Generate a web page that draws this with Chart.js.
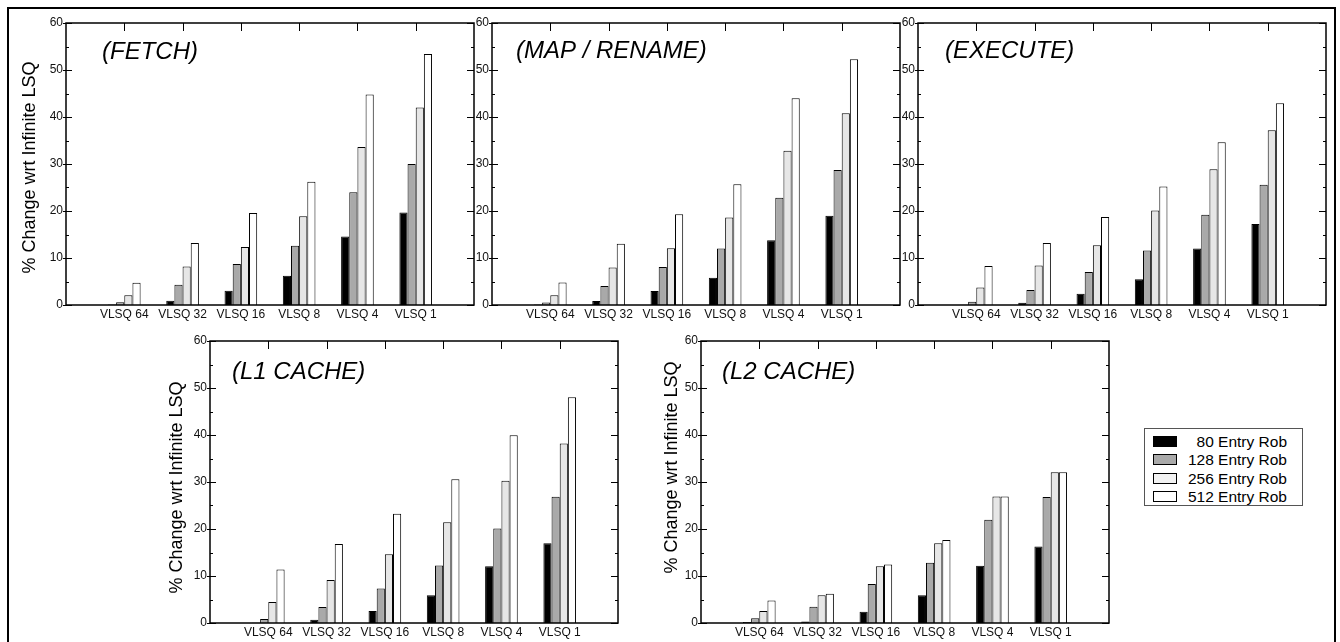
<!DOCTYPE html>
<html>
<head>
<meta charset="utf-8">
<script src="https://cdn.jsdelivr.net/npm/chart.js@4.4.1/dist/chart.umd.min.js"></script>
<style>
    body {
        margin: 0;
        width: 1340px;
        height: 642px;
        overflow: hidden;
        position: relative;
        background: #fff;
        font-family: "Liberation Sans", Arial, sans-serif;
    }
    .frame {
        position: absolute;
        left: 7px;
        top: 7px;
        width: 1325px;
        height: 700px;
        border: 2.5px solid #000;
    }
    canvas.panel {
        position: absolute;
    }
    .legend {
        position: absolute;
        left: 1144px;
        top: 428px;
        width: 157px;
        height: 76px;
        border: 1.5px solid #555;
        background: #fff;
    }
    .legend .row {
        position: absolute;
        left: 0;
        width: 142px;
        height: 11px;
    }
    .legend .swatch {
        position: absolute;
        left: 8px;
        top: 0;
        width: 22px;
        height: 9px;
        border: 1px solid #000;
    }
    .legend .label {
        position: absolute;
        right: 0;
        top: -3px;
        font-size: 15.5px;
        line-height: 17px;
        color: #000;
        white-space: nowrap;
    }
</style>
</head>
<body>
<div class="frame"></div>
<canvas id="fetchChart" class="panel" width="480" height="319" style="left:6px; top:8px;"></canvas>
<canvas id="renameChart" class="panel" width="480" height="319" style="left:432px; top:8px;"></canvas>
<canvas id="executeChart" class="panel" width="480" height="319" style="left:858px; top:8px;"></canvas>
<canvas id="l1Chart" class="panel" width="480" height="319" style="left:150px; top:326px;"></canvas>
<canvas id="l2Chart" class="panel" width="480" height="319" style="left:641px; top:326px;"></canvas>
<div class="legend" id="legend"></div>

<script>
const categories = ['VLSQ 64', 'VLSQ 32', 'VLSQ 16', 'VLSQ 8', 'VLSQ 4', 'VLSQ 1'];
const seriesNames = ['80 Entry Rob', '128 Entry Rob', '256 Entry Rob', '512 Entry Rob'];
const seriesColors = ['#000000', '#a9a9a9', '#e6e6e6', '#ffffff'];
const legendColors = ['#000000', '#a9a9a9', '#f2f2f2', '#ffffff'];
const yTicks = [0, 10, 20, 30, 40, 50, 60];

// (FETCH)
const fetchRob80 = [0.1, 0.9, 3.05, 6.2, 14.55, 19.7];
const fetchRob128 = [0.6, 4.3, 8.7, 12.6, 24.0, 30.0];
const fetchRob256 = [2.1, 8.2, 12.35, 18.9, 33.6, 42.0];
const fetchRob512 = [4.75, 13.2, 19.6, 26.2, 44.8, 53.4];

// (MAP / RENAME)
const renameRob80 = [0.1, 0.85, 3.0, 5.8, 13.8, 19.0];
const renameRob128 = [0.55, 4.05, 8.1, 12.0, 22.8, 28.7];
const renameRob256 = [2.1, 8.0, 12.1, 18.6, 32.8, 40.8];
const renameRob512 = [4.8, 13.05, 19.3, 25.7, 44.0, 52.3];

// (EXECUTE)
const executeRob80 = [0.05, 0.5, 2.4, 5.5, 12.0, 17.25];
const executeRob128 = [0.7, 3.2, 7.0, 11.6, 19.2, 25.6];
const executeRob256 = [3.75, 8.4, 12.7, 20.1, 28.9, 37.2];
const executeRob512 = [8.3, 13.2, 18.7, 25.2, 34.65, 42.9];

// (L1 CACHE)
const l1Rob80 = [0.05, 0.7, 2.55, 5.9, 12.05, 16.95];
const l1Rob128 = [0.85, 3.4, 7.35, 12.25, 20.1, 26.85];
const l1Rob256 = [4.45, 9.15, 14.65, 21.45, 30.25, 38.2];
const l1Rob512 = [11.4, 16.8, 23.25, 30.6, 39.95, 48.05];

// (L2 CACHE)
const l2Rob80 = [0.2, 0.3, 2.4, 5.9, 12.2, 16.3];
const l2Rob128 = [1.0, 3.45, 8.3, 12.8, 21.95, 26.8];
const l2Rob256 = [2.55, 5.9, 12.05, 16.95, 26.9, 32.1];
const l2Rob512 = [4.8, 6.25, 12.45, 17.65, 26.9, 32.1];

const FONT = '"Liberation Sans", Arial, Helvetica, sans-serif';

// frame, tick marks and titles drawn on top of each panel
const panelDecor = {
    id: 'panelDecor',
    afterDraw(chart, args, opts) {
        const ctx = chart.ctx;
        const a = chart.chartArea;
        const x = chart.scales.x;
        const y = chart.scales.y;
        ctx.save();
        ctx.strokeStyle = '#000';
        ctx.lineWidth = 1.5;
        ctx.strokeRect(a.left, a.top, a.right - a.left, a.bottom - a.top);

        ctx.lineWidth = 1;
        for (let v = yTicks[0]; v <= yTicks[yTicks.length - 1]; v += 5) {
            const py = Math.round(y.getPixelForValue(v)) + 0.5;
            const major = v % 10 === 0;
            ctx.beginPath();
            ctx.moveTo(a.left - (major ? 3 : 0), py);
            ctx.lineTo(a.left + (major ? 6 : 3), py);
            ctx.moveTo(a.right - (major ? 7 : 3), py);
            ctx.lineTo(a.right, py);
            ctx.stroke();
        }
        categories.forEach((c, i) => {
            const px = Math.round(x.getPixelForValue(i + 1)) + 0.5;
            ctx.beginPath();
            ctx.moveTo(px, a.top);
            ctx.lineTo(px, a.top + 8);
            ctx.stroke();
        });

        ctx.fillStyle = '#000';
        ctx.font = 'italic 24px ' + FONT;
        ctx.textAlign = 'left';
        ctx.textBaseline = 'alphabetic';
        ctx.fillText(opts.title, a.left + opts.titleDx, a.top + opts.titleDy);

        if (opts.yTitle) {
            ctx.translate(a.left + opts.yTitleDx, (a.top + a.bottom) / 2 + opts.yTitleDy);
            ctx.rotate(-Math.PI / 2);
            ctx.font = '18px ' + FONT;
            ctx.textAlign = 'center';
            ctx.textBaseline = 'middle';
            ctx.fillText(opts.yTitle, 0, 0);
        }
        ctx.restore();
    }
};

function createPanel(id, series, decor) {
    const ctx = document.getElementById(id);
    if (!ctx) return;
    new Chart(ctx, {
        type: 'bar',
        data: {
            labels: [''].concat(categories, ['']),
            datasets: series.map((values, i) => ({
                label: seriesNames[i],
                data: [null].concat(values, [null]),
                backgroundColor: seriesColors[i],
                borderColor: '#000',
                borderWidth: 1,
                barPercentage: 1,
                categoryPercentage: 0.56
            }))
        },
        options: {
            responsive: false,
            animation: false,
            devicePixelRatio: 1,
            layout: {
                padding: { left: 0, top: 15, right: 12, bottom: 2 }
            },
            plugins: {
                legend: { display: false },
                tooltip: { enabled: false },
                panelDecor: decor
            },
            scales: {
                x: {
                    type: 'category',
                    offset: false,
                    grid: { display: false, drawTicks: false, offset: false },
                    border: { display: false },
                    ticks: {
                        autoSkip: false,
                        maxRotation: 0,
                        padding: 2,
                        color: '#111',
                        font: { family: FONT, size: 12 }
                    },
                    afterFit(scale) { scale.height = 20; }
                },
                y: {
                    min: yTicks[0],
                    max: yTicks[yTicks.length - 1],
                    grid: { display: false, drawTicks: false },
                    border: { display: false },
                    ticks: {
                        stepSize: 10,
                        padding: 3,
                        color: '#111',
                        font: { family: FONT, size: 12 }
                    },
                    afterFit(scale) { scale.width = 60; }
                }
            }
        },
        plugins: [panelDecor]
    });
}

function buildLegend() {
    const box = document.getElementById('legend');
    seriesNames.forEach((name, i) => {
        const row = document.createElement('div');
        row.className = 'row';
        row.style.top = (7 + i * 18.3) + 'px';
        const sw = document.createElement('div');
        sw.className = 'swatch';
        sw.style.background = legendColors[i];
        const lb = document.createElement('div');
        lb.className = 'label';
        lb.textContent = name;
        row.appendChild(sw);
        row.appendChild(lb);
        box.appendChild(row);
    });
}

const yTitle = '% Change wrt Infinite LSQ';

createPanel('fetchChart', [fetchRob80, fetchRob128, fetchRob256, fetchRob512],
    { title: '(FETCH)', titleDx: 36, titleDy: 36, yTitle: yTitle, yTitleDx: -36, yTitleDy: 3.5 });
createPanel('renameChart', [renameRob80, renameRob128, renameRob256, renameRob512],
    { title: '(MAP / RENAME)', titleDx: 24, titleDy: 35 });
createPanel('executeChart', [executeRob80, executeRob128, executeRob256, executeRob512],
    { title: '(EXECUTE)', titleDx: 27, titleDy: 35 });
createPanel('l1Chart', [l1Rob80, l1Rob128, l1Rob256, l1Rob512],
    { title: '(L1 CACHE)', titleDx: 22, titleDy: 38, yTitle: yTitle, yTitleDx: -33, yTitleDy: 5.5 });
createPanel('l2Chart', [l2Rob80, l2Rob128, l2Rob256, l2Rob512],
    { title: '(L2 CACHE)', titleDx: 21, titleDy: 38, yTitle: yTitle, yTitleDx: -29, yTitleDy: -14.5 });
buildLegend();
</script>
</body>
</html>
